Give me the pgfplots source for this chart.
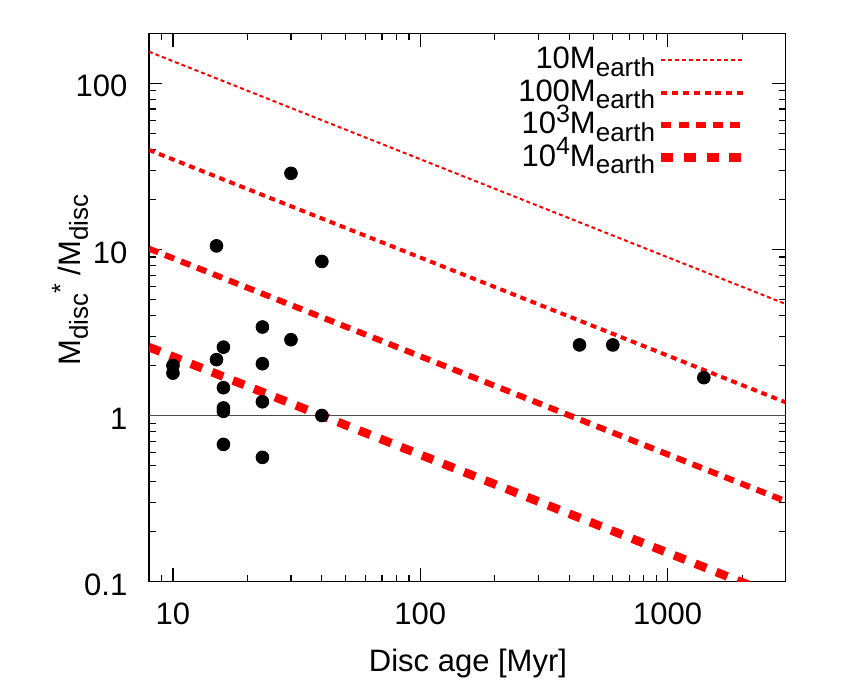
\documentclass[border=0pt]{standalone}
\usepackage{fontspec}
\setmainfont{Liberation Sans}
\usepackage{pgfplots}
\pgfplotsset{compat=1.18}

% gnuplot-like sub/superscripts
\newcommand{\sub}[1]{\raisebox{-0.24em}{\fontsize{13}{13}\selectfont #1}}
\newcommand{\super}[1]{\raisebox{0.36em}{\fontsize{12.5}{13}\selectfont #1}}
\newcommand{\bigfont}{\fontsize{15.5}{18}\selectfont}

\begin{document}
\bigfont
\begin{tikzpicture}
\begin{axis}[
    name=ax,
    scale only axis,
    width=318.4pt, height=274.2pt,
    xmode=log, ymode=log,
    xmin=8, xmax=3000,
    ymin=0.1, ymax=200,
    xtick={10,100,1000}, xticklabels={10,100,1000},
    ytick={0.1,1,10,100}, yticklabels={0.1,1,10,100},
    minor xtick={9,20,30,40,50,60,70,80,90,200,300,400,500,600,700,800,900,2000,3000},
    minor ytick={0.2,0.3,0.4,0.5,0.6,0.7,0.8,0.9,2,3,4,5,6,7,8,9,20,30,40,50,60,70,80,90,200},
    tick align=inside,
    xtick pos=both, ytick pos=both,
    major tick length=6.7pt, minor tick length=3.3pt,
    every tick/.style={black, line width=0.6pt},
    axis line style={line width=0.65pt},
    tick label style={font=\bigfont},
    xticklabel style={yshift=-5.5pt},
    yticklabel style={xshift=-5.5pt, yshift=-1.5pt},
    xlabel={Disc age [Myr]},
    ylabel={M\sub{disc}\super{*} /M\sub{disc}},
    label style={font=\bigfont},
    xlabel style={at={(axis description cs:0.501,-0.15)}, anchor=center},
    ylabel style={at={(axis description cs:-0.124,0.55)}, anchor=center},
    legend plot pos=right,
    legend cell align=right,
    legend image code/.code={\draw[#1] (0pt,0pt) -- (42pt,0pt);},
    legend style={draw=none, fill=none, inner sep=0pt,
        at={(axis description cs:0.944,0.981)}, anchor=north east,
        font=\bigfont,
        nodes={inner sep=1pt, text height=11.4pt, text depth=2.8pt},
        /tikz/every even column/.append style={column sep=12pt}},
]
% reference line at 1
\addplot[black!70, line width=0.7pt, forget plot] coordinates {(8,1) (3000,1)};

\addplot[red, line width=1pt, dash pattern=on 2pt off 1.5pt]
    coordinates {(8,155) (3000,4.69)};
\addlegendentry{10M\sub{earth}}
\addplot[red, line width=2pt, dash pattern=on 3pt off 2.4pt]
    coordinates {(8,39.7) (3000,1.20)};
\addlegendentry{100M\sub{earth}}
\addplot[red, line width=3pt, dash pattern=on 5pt off 3.6pt]
    coordinates {(8,10.1) (3000,0.305)};
\addlegendentry{10\super{3}M\sub{earth}}
\addplot[red, line width=4.3pt, dash pattern=on 6pt off 5.3pt]
    coordinates {(8,2.58) (3000,0.078)};
\addlegendentry{10\super{4}M\sub{earth}}

% discs
\addplot[only marks, mark=*, mark size=3.2pt, black, forget plot] coordinates {
    (10,2.0) (10,1.80)
    (15,10.5) (15,2.17)
    (16,2.58) (16,1.47) (16,1.11) (16,1.06) (16,0.67)
    (23,3.41) (23,2.05) (23,1.21) (23,0.56)
    (30,28.7) (30,2.86)
    (40,8.46) (40,1.0)
    (440,2.66) (600,2.66) (1400,1.69)
};
\end{axis}
\path[use as bounding box] ([shift={(-74.5pt,-51.15pt)}]ax.south west)
    rectangle ([shift={(34.65pt,16.65pt)}]ax.north east);
\end{tikzpicture}
\end{document}
